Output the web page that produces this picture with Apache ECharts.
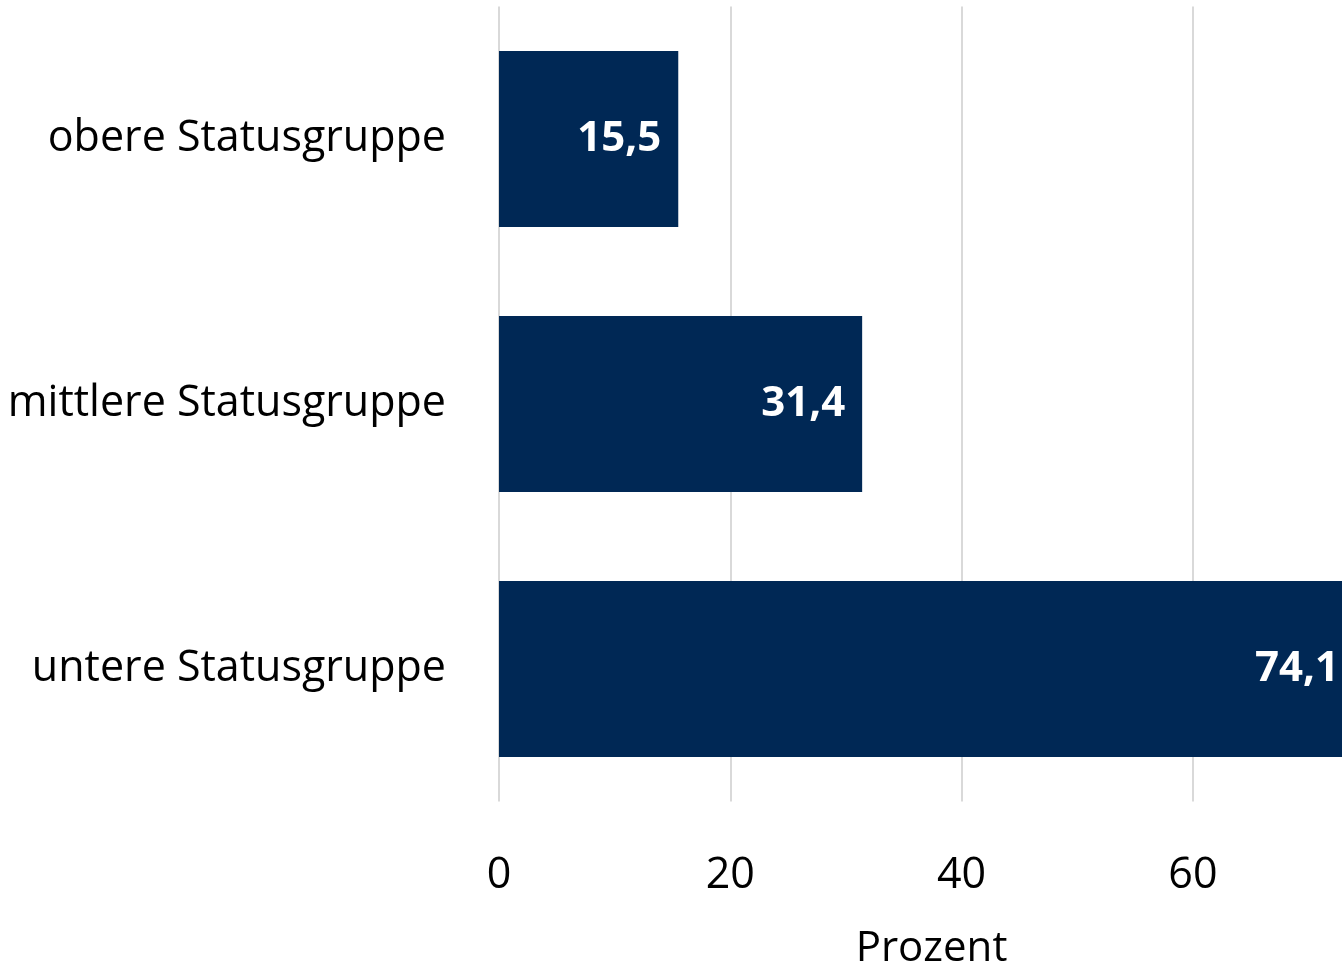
<!DOCTYPE html>
<html><head><meta charset="utf-8">
<script src="https://cdn.jsdelivr.net/npm/echarts@6/dist/echarts.min.js"></script>
<style>html,body{margin:0;padding:0;background:#fff;overflow:hidden}#c{width:1342px;height:964px}</style>
</head><body><div id="c"></div>
<script>
const categories = ['untere Statusgruppe', 'mittlere Statusgruppe', 'obere Statusgruppe'];
const values = [74.1, 31.4, 15.5];
const xTicks = [0, 20, 40, 60];

const chart = echarts.init(document.getElementById('c'));
const font = 'Open Sans';
chart.setOption({
  animation: false,
  grid: { left: 499, width: 857, top: 6.5, height: 795, containLabel: false, outerBoundsMode: 'none' },
  xAxis: {
    type: 'value', min: 0, max: 74.1, interval: 20,
    name: 'Prozent', nameLocation: 'middle', nameGap: 127,
    nameTextStyle: { fontFamily: font, fontSize: 42, color: '#000', padding: [0, 0, 0, 8] },
    axisLine: { show: false }, axisTick: { show: false },
    axisLabel: { fontFamily: font, fontSize: 43, color: '#000', margin: 53,
      formatter: v => xTicks.includes(v) ? String(v) : '' },
    splitLine: { show: true, lineStyle: { color: '#d9d9d9', width: 2 } }
  },
  yAxis: {
    type: 'category', data: categories,
    axisLine: { show: false }, axisTick: { show: false },
    axisLabel: { fontFamily: font, fontSize: 43, color: '#000', margin: 53 }
  },
  series: [{
    type: 'bar', data: values, barCategoryGap: '33.6%',
    itemStyle: { color: '#002855' },
    label: { show: true, position: 'insideRight', distance: 17,
      fontFamily: font, fontSize: 42, fontWeight: 'bold', color: '#fff',
      formatter: p => String(p.value).replace('.', ',') }
  }]
});
</script></body></html>
